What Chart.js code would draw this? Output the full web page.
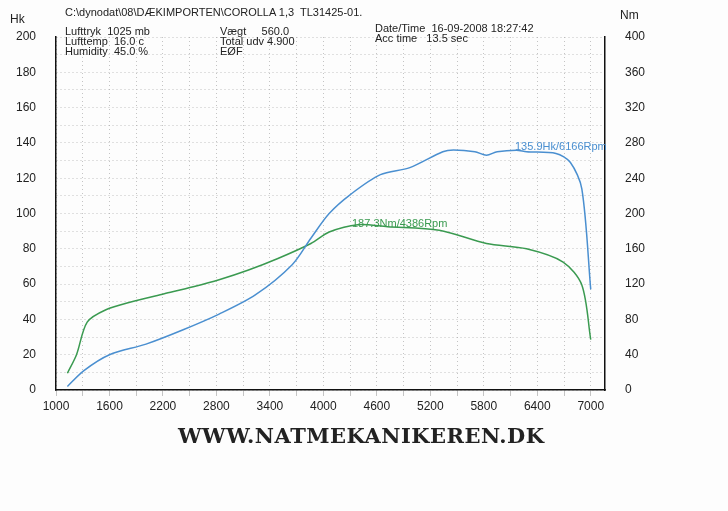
<!DOCTYPE html>
<html>
<head>
<meta charset="utf-8">
<script src="https://cdn.jsdelivr.net/npm/chart.js@4/dist/chart.umd.min.js"></script>
<style>
  body { margin: 0; background: #fdfdfd; font-family: "Liberation Sans", sans-serif; }
  #wrap { position: relative; width: 728px; height: 511px; }
  .t { position: absolute; font-size: 11px; color: #222; white-space: pre; line-height: 10px; }
  .site { position: absolute; left: 178px; top: 423px; font-family: "DejaVu Serif", serif; font-weight: bold; font-size: 21px; color: #222; letter-spacing: 0.5px; }
</style>
</head>
<body>
<div id="wrap">
  <canvas id="c" width="728" height="511"></canvas>
  <div class="t" style="left:10px;top:14px;font-size:12px">Hk</div>
  <div class="t" style="left:620px;top:10px;font-size:12px">Nm</div>
  <div class="t" style="left:65px;top:7px">C:\dynodat\08\DÆKIMPORTEN\COROLLA 1,3  TL31425-01.</div>
  <div class="t" style="left:65px;top:26px">Lufttryk  1025 mb
Lufttemp  16.0 c
Humidity  45.0 %</div>
  <div class="t" style="left:220px;top:26px">Vægt     560.0
Total udv 4.900
EØF</div>
  <div class="t" style="left:375px;top:23px">Date/Time  16-09-2008 18:27:42
Acc time   13.5 sec</div>
  <div class="t" style="left:515px;top:141px;color:#4a8fd0">135.9Hk/6166Rpm</div>
  <div class="t" style="left:352px;top:218px;color:#3a9a50">187.3Nm/4386Rpm</div>
  <div class="site">WWW.NATMEKANIKEREN.DK</div>
</div>
<script>
var rpmPower = [1128, 1313, 1600, 2010, 2420, 2830, 3240, 3650, 3860, 4065, 4310, 4640, 4970, 5340, 5460, 5700, 5830, 5950, 6166, 6280, 6610, 6770, 6900, 7000];
var powerHk  = [2, 11, 20, 26, 34, 43, 54, 71, 86, 100, 111, 122, 126, 135, 136, 135, 133, 135, 135.9, 135, 134, 129, 114, 57];
var rpmTorque = [1128, 1230, 1350, 1560, 1850, 2215, 2540, 2830, 3160, 3490, 3860, 4065, 4386, 4720, 5300, 5830, 6280, 6690, 6900, 7000];
var torqueNm  = [19, 40, 77, 91, 100, 109, 117, 125, 136, 149, 166, 179, 187.3, 185, 181, 166, 160, 145, 119, 57];
var rpmGrid = [1000, 1300, 1600, 1900, 2200, 2500, 2800, 3100, 3400, 3700, 4000, 4300, 4600, 4900, 5200, 5500, 5800, 6100, 6400, 6700, 7000];

function pts(xs, ys) { return xs.map(function(x, i) { return { x: x, y: ys[i] }; }); }

var tickFont = { family: "Liberation Sans", size: 12 };
new Chart(document.getElementById('c'), {
  type: 'line',
  data: {
    datasets: [
      { data: pts(rpmPower, powerHk), yAxisID: 'y', borderColor: '#4a8fd0', borderWidth: 1.5, pointRadius: 0, tension: 0.3 },
      { data: pts(rpmTorque, torqueNm), yAxisID: 'y2', borderColor: '#3a9a50', borderWidth: 1.5, pointRadius: 0, tension: 0.3 }
    ]
  },
  options: {
    responsive: false, animation: false,
    plugins: { legend: { display: false }, tooltip: { enabled: false } },
    layout: { padding: { top: 37, bottom: 95, right: 78, left: 0 } },
    scales: {
      x: {
        type: 'linear', min: 1000, max: 7160,
        afterBuildTicks: function(s) { s.ticks = rpmGrid.map(function(v) { return { value: v }; }); },
        afterFit: function(s) { s.height = 26; },
        grid: { color: '#aaa', lineWidth: 0.7, drawTicks: true, tickLength: 6 },
        border: { color: '#111', width: 1.5, dash: [1, 3] },
        ticks: { color: '#222', font: tickFont, maxRotation: 0, autoSkip: false,
          callback: function(v) { return (v - 1000) % 600 === 0 ? String(v) : ''; } }
      },
      y: {
        min: 0, max: 200, position: 'left',
        ticks: { stepSize: 10, color: '#222', font: tickFont, padding: 20,
          callback: function(v) { return v % 20 === 0 ? String(v) : ''; } },
        afterFit: function(s) { s.width = 56; },
        grid: { color: '#aaa', lineWidth: 0.7, drawTicks: false },
        border: { color: '#111', width: 1.5, dash: [1, 3] }
      },
      y2: {
        min: 0, max: 400, position: 'right',
        ticks: { stepSize: 40, color: '#222', font: tickFont, padding: 12 },
        afterFit: function(s) { s.width = 45; },
        grid: { display: false },
        border: { color: '#111', width: 1.5 }
      }
    }
  }
});
</script>
</body>
</html>
